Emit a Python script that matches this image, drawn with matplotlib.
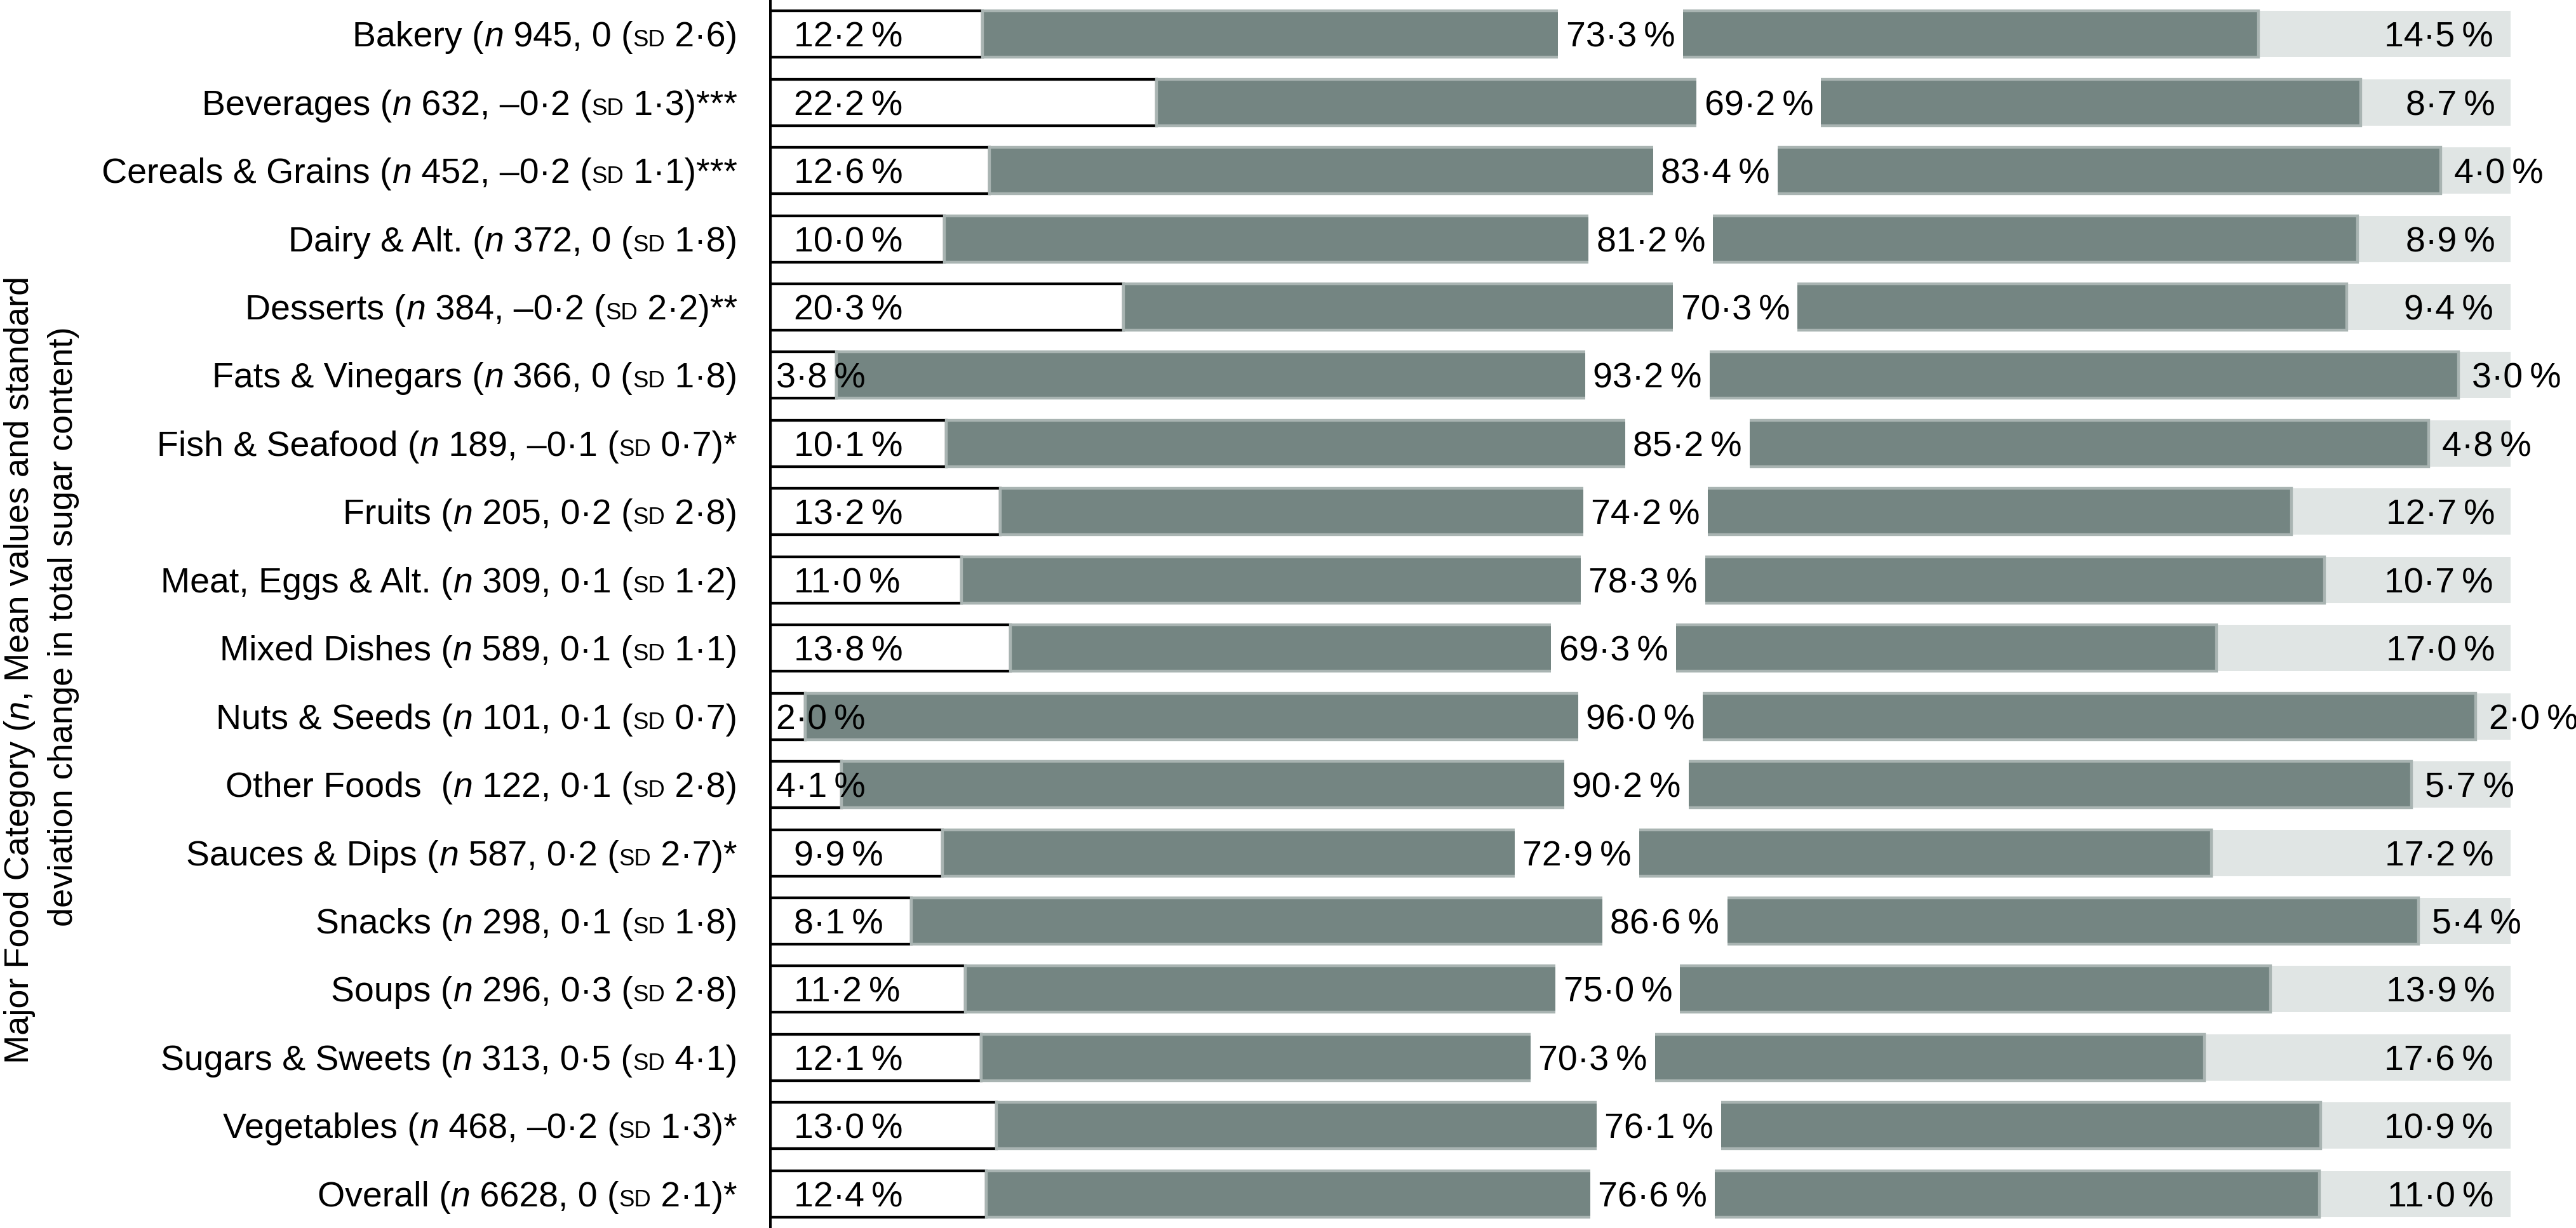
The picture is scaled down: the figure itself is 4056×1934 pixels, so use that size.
import matplotlib
matplotlib.use("Agg")
import matplotlib.pyplot as plt
from matplotlib.offsetbox import TextArea, HPacker, AnnotationBbox

plt.rcParams['font.family'] = ['Liberation Sans', 'DejaVu Sans']

# ---------------- data ----------------
categories = ["Bakery", "Beverages", "Cereals & Grains", "Dairy & Alt.", "Desserts",
              "Fats & Vinegars", "Fish & Seafood", "Fruits", "Meat, Eggs & Alt.",
              "Mixed Dishes", "Nuts & Seeds", "Other Foods ", "Sauces & Dips", "Snacks",
              "Soups", "Sugars & Sweets", "Vegetables", "Overall"]
n_products = [945, 632, 452, 372, 384, 366, 189, 205, 309, 589, 101, 122, 587, 298,
              296, 313, 468, 6628]
mean_change = [0, -0.2, -0.2, 0, -0.2, 0, -0.1, 0.2, 0.1, 0.1, 0.1, 0.1, 0.2, 0.1,
               0.3, 0.5, -0.2, 0]
sd_change = [2.6, 1.3, 1.1, 1.8, 2.2, 1.8, 0.7, 2.8, 1.2, 1.1, 0.7, 2.8, 2.7, 1.8,
             2.8, 4.1, 1.3, 2.1]
significance = ["", "***", "***", "", "**", "", "*", "", "", "", "", "", "*", "", "",
                "", "*", "*"]
decreased = [12.2, 22.2, 12.6, 10.0, 20.3, 3.8, 10.1, 13.2, 11.0, 13.8, 2.0, 4.1, 9.9,
             8.1, 11.2, 12.1, 13.0, 12.4]
no_change = [73.3, 69.2, 83.4, 81.2, 70.3, 93.2, 85.2, 74.2, 78.3, 69.3, 96.0, 90.2,
             72.9, 86.6, 75.0, 70.3, 76.1, 76.6]
increased = [14.5, 8.7, 4.0, 8.9, 9.4, 3.0, 4.8, 12.7, 10.7, 17.0, 2.0, 5.7, 17.2, 5.4,
             13.9, 17.6, 10.9, 11.0]
ylabel_line1_parts = [("Major Food Category (", 'normal'), ("n", 'italic'),
                      (", Mean values and standard", 'normal')]
ylabel_line2 = "deviation change in total sugar content)"

# ---------------- style ----------------
DPI = 100
W, H = 4056, 1934
PT = 72.0 / DPI          # points per pixel
FS = 40                  # main font size (pt)
FS_TITLE = 39
C_DARK = '#748582'
C_DARK_EDGE = '#a9b4b2'
C_LIGHT = '#e0e5e4'


def fmt_num(v):
    if v == 0:
        return "0"
    return f"{v:.1f}".replace('.', '\u00b7').replace('-', '\u2013')


def fmt_pct(v):
    return f"{v:.1f}\u2009%".replace('.', '\u00b7')


fig = plt.figure(figsize=(W / DPI, H / DPI), dpi=DPI)
ax_left = 1213 / W
ax_right = 3953 / W
ax = fig.add_axes([ax_left, 0, ax_right - ax_left, 1])

y = list(range(len(categories)))
bar_h = 0.68
mid_left = [d for d in decreased]
inc_left = [d + m for d, m in zip(decreased, no_change)]

ax.barh(y, decreased, height=bar_h, left=0, color='white', edgecolor='black',
        linewidth=4.3 * PT, zorder=1)
ax.barh(y, no_change, height=bar_h, left=mid_left, color=C_DARK, edgecolor=C_DARK_EDGE,
        linewidth=4.4 * PT, zorder=1.2)
ax.barh(y, increased, height=bar_h, left=inc_left, color=C_LIGHT, edgecolor='none',
        linewidth=0, zorder=1.1)

ax.set_xlim(0, 100)
ax.set_ylim(len(categories) - 0.5, -0.5)
ax.set_xticks([])
ax.set_yticks([])
for s in ['top', 'right', 'bottom']:
    ax.spines[s].set_visible(False)
ax.spines['left'].set_linewidth(4 * PT)
ax.spines['left'].set_color('black')
ax.spines['left'].set_zorder(5)

BASE_OFF = -20 * PT   # baseline offset so cap-height is centred on bar

# decreased labels
for i, d in enumerate(decreased):
    off = 37 if d >= 6 else 9
    ax.annotate(fmt_pct(d), xy=(0, i), xytext=(off * PT, BASE_OFF),
                textcoords='offset points', ha='left', va='baseline',
                fontsize=FS, zorder=6)

# no-change labels (white box interrupts bar)
for i, (d, m) in enumerate(zip(decreased, no_change)):
    ax.annotate(fmt_pct(m), xy=(d + m / 2, i), xytext=(0, BASE_OFF),
                textcoords='offset points', ha='center', va='baseline',
                fontsize=FS, zorder=6,
                bbox=dict(boxstyle='square,pad=0.22', fc='white', ec='none',
                          mutation_aspect=1.8))

# increased labels
inc_texts = []
for i, (d, m, inc) in enumerate(zip(decreased, no_change, increased)):
    t = ax.annotate(fmt_pct(inc), xy=(d + m + inc, i), xytext=(-27 * PT, BASE_OFF),
                    textcoords='offset points', ha='right', va='baseline',
                    fontsize=FS, zorder=6, annotation_clip=False)
    inc_texts.append(t)

# category labels with italic n and small-caps SD
for i, (c, n, mu, sd, sig) in enumerate(zip(categories, n_products, mean_change,
                                             sd_change, significance)):
    parts = [
        TextArea(f"{c} (", textprops=dict(fontsize=FS)),
        TextArea("n", textprops=dict(fontsize=FS, fontstyle='italic')),
        TextArea(f" {n}, {fmt_num(mu)} (", textprops=dict(fontsize=FS)),
        TextArea("SD", textprops=dict(fontsize=FS * 0.66)),
        TextArea(f" {fmt_num(sd)}){sig}", textprops=dict(fontsize=FS)),
    ]
    pack = HPacker(children=parts, align='baseline', pad=0, sep=0)
    ab = AnnotationBbox(pack, (0, i), xycoords=('axes fraction', 'data'),
                        xybox=(-52 * PT, -5.5 * PT), boxcoords='offset points',
                        box_alignment=(1, 0.5), frameon=False, pad=0,
                        annotation_clip=False)
    ax.add_artist(ab)

# y-axis title, line 1 built from pieces (italic n), line 2 plain
line1_texts = []
for txt, style in ylabel_line1_parts:
    t = fig.text(31 / W, 0.5, txt, rotation=90, ha='center', va='bottom',
                 fontsize=FS_TITLE, fontstyle=style)
    line1_texts.append(t)
fig.text(100 / W, 1 - 987 / H, ylabel_line2, rotation=90, ha='center', va='center',
         fontsize=FS_TITLE)

fig.canvas.draw()
r = fig.canvas.get_renderer()

# stack the line-1 pieces bottom-to-top, centred at the target height
lens = [t.get_window_extent(r).height for t in line1_texts]
total = sum(lens)
y0 = (H - 1055) - total / 2.0
for t, L in zip(line1_texts, lens):
    t.set_position((31 / W, y0 / H))
    y0 += L

# adjust increased labels that would not fit in their segment
for i, t in enumerate(inc_texts):
    bb = t.get_window_extent(r)
    seg_start = ax.transData.transform((inc_left[i], i))[0]
    if bb.x0 < seg_start + 21:
        t.set_horizontalalignment('left')
        t.xy = (inc_left[i], i)
        t.xyann = (21 * PT, BASE_OFF)

fig.savefig("out.png", dpi=DPI, facecolor='white')
